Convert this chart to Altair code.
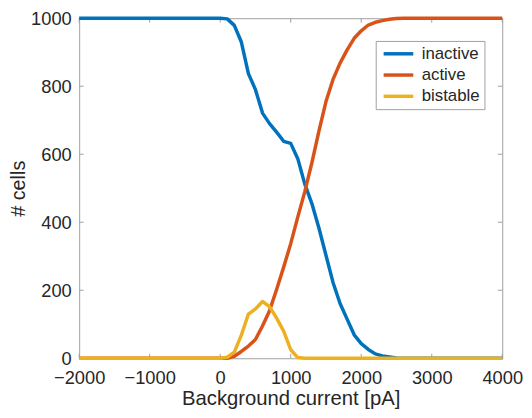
import altair as alt
import pandas as pd

# Background current [pA]
current = [-2000, 0, 100, 200, 300, 400, 500, 600, 700, 800, 900, 1000, 1100, 1200,
           1300, 1400, 1500, 1600, 1700, 1800, 1900, 2000, 2100, 2200, 2300, 2400,
           2500, 2600, 4000]
inactive = [1000, 1000, 998, 979, 930, 837, 790, 721, 690, 665, 638, 632, 587, 512,
            455, 383, 303, 223, 161, 115, 69, 43, 26, 13, 7, 4, 1, 0, 0]
active = [0, 0, 0, 6, 20, 36, 55, 95, 140, 202, 268, 337, 415, 490,
          575, 668, 755, 820, 868, 907, 941, 963, 980, 988, 993, 997, 999, 1000, 1000]
bistable = [0, 0, 3, 18, 68, 130, 145, 167, 152, 118, 80, 25, 2, 0,
            0, 0, 0, 0, 0, 0, 0, 0, 0, 0, 0, 0, 0, 0, 0]

series_names = ["inactive", "active", "bistable"]
series_colors = ["#0072BD", "#D95319", "#EDB120"]

x_ticks = [-2000, -1000, 0, 1000, 2000, 3000, 4000]
y_ticks = [0, 200, 400, 600, 800, 1000]

rows = []
for i, (name, vals) in enumerate(zip(series_names, [inactive, active, bistable])):
    for xv, yv in zip(current, vals):
        rows.append({"x": xv, "y": yv, "series": name, "k": i})
df = pd.DataFrame(rows)

W, H = 428, 344
TL = 4.5
FONT = "Liberation Sans"
AX = "#a0a0a0"
TXT = "#262626"

xscale = alt.Scale(domain=[-2000, 4000], nice=False)
yscale = alt.Scale(domain=[0, 1000], nice=False)

lines = alt.Chart(df).mark_line(strokeWidth=3.5, strokeJoin="round").encode(
    x=alt.X("x:Q", scale=xscale,
            axis=alt.Axis(values=x_ticks, format="d", title="Background current [pA]",
                          grid=False, domain=False, ticks=False, labelPadding=11,
                          titlePadding=1, labelFontSize=18.5, titleFontSize=20.5,
                          labelFont=FONT, titleFont=FONT, labelColor=TXT, titleColor=TXT,
                          titleFontWeight="normal", labelFlush=False)),
    y=alt.Y("y:Q", scale=yscale,
            axis=alt.Axis(values=y_ticks, format="d", title="# cells", grid=False,
                          domain=False, ticks=False, labelPadding=8, titlePadding=2,
                          labelFontSize=18.5, titleFontSize=20, labelFont=FONT,
                          titleFont=FONT, labelColor=TXT, titleColor=TXT,
                          titleFontWeight="normal", labelFlush=False)),
    color=alt.Color("series:N", sort=series_names,
                    scale=alt.Scale(domain=series_names, range=series_colors),
                    legend=alt.Legend(title=None, orient="none", legendX=300, legendY=23,
                                      symbolType="M-1,0H5", symbolStrokeWidth=3.5,
                                      symbolSize=100, labelFontSize=17, labelFont=FONT,
                                      labelColor=TXT, strokeColor=AX, fillColor="white",
                                      padding=4.5, rowPadding=3.5, labelOffset=25)),
    order=alt.Order("k:Q"),
)

xt = pd.DataFrame({"x": x_ticks})
yt = pd.DataFrame({"y": y_ticks})

bottom = alt.Chart(xt).mark_rule(color=AX, strokeWidth=1).encode(
    x=alt.X("x:Q", scale=xscale), y=alt.value(H), y2=alt.value(H - TL))
top = alt.Chart(xt).mark_rule(color=AX, strokeWidth=1).encode(
    x=alt.X("x:Q", scale=xscale), y=alt.value(0), y2=alt.value(TL))
left = alt.Chart(yt).mark_rule(color=AX, strokeWidth=1).encode(
    y=alt.Y("y:Q", scale=yscale), x=alt.value(0), x2=alt.value(TL))
right = alt.Chart(yt).mark_rule(color=AX, strokeWidth=1).encode(
    y=alt.Y("y:Q", scale=yscale), x=alt.value(W), x2=alt.value(W - TL))

chart = alt.layer(bottom, top, left, right, lines).properties(
    width=W, height=H,
    autosize=alt.AutoSizeParams(type="none"),
    padding={"left": 72, "top": 8, "right": 22, "bottom": 50},
    background="white",
).configure_view(stroke=AX, strokeWidth=1)

chart.save("out.html", embed_options={"renderer": "svg", "actions": False})
